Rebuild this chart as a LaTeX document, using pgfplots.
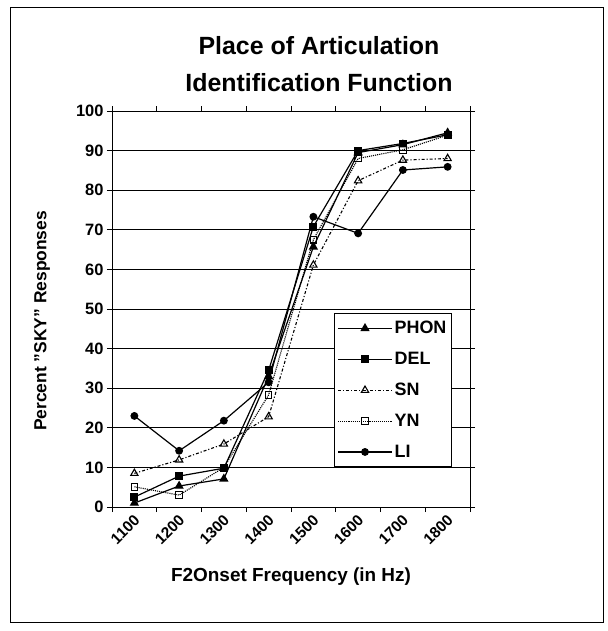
\documentclass[border=0pt]{standalone}
\usepackage{fontspec}
\setmainfont{Liberation Sans}
\usepackage{pgfplots}
\pgfplotsset{compat=1.18}
\begin{document}
\begin{tikzpicture}
\path[use as bounding box] (0,0) rectangle (608bp,-631bp);
\draw[line width=1bp] (10bp,-7bp) rectangle (603bp,-622bp);
\node[font=\fontsize{25}{29}\selectfont\bfseries] at (319bp,-46bp) {Place of Articulation};
\node[font=\fontsize{25}{29}\selectfont\bfseries] at (319bp,-83bp) {Identification Function};
\begin{axis}[
  at={(112bp,-507bp)}, anchor=south west,
  scale only axis, width=358bp, height=396bp,
  xmin=0.5, xmax=8.5, ymin=0, ymax=100,
  xtick={1,2,3,4,5,6,7,8},
  xticklabels={1100,1200,1300,1400,1500,1600,1700,1800},
  minor xtick={0.5,1.5,2.5,3.5,4.5,5.5,6.5,7.5,8.5},
  ytick={0,10,20,30,40,50,60,70,80,90,100},
  ymajorgrids, grid style={black, line width=0.9bp},
  axis line style={black, line width=1bp},
  tick align=outside, major tick length=5bp, minor tick length=5bp,
  tick style={black, line width=0.9bp},
  major x tick style={draw=none},
  /pgf/number format/assume math mode=true,
  y tick label style={font=\fontsize{16.5}{19}\selectfont\bfseries},
  x tick label style={font=\fontsize{15.5}{17}\selectfont\bfseries, rotate=45, anchor=east, yshift=-6bp, xshift=-1bp, inner sep=1bp},
  xlabel={F2Onset Frequency (in Hz)},
  ylabel={Percent "SKY" Responses},
  xlabel style={font=\fontsize{19}{22}\selectfont\bfseries, at={(axis description cs:0.5,-0.177)}, anchor=center},
  ylabel style={font=\fontsize{17.5}{20}\selectfont\bfseries, at={(axis description cs:-0.1955,0.47)}, anchor=center},
  legend style={at={(0.62,0.49)}, anchor=north west, draw=black, line width=0.9bp,
    font=\fontsize{18}{21}\selectfont\bfseries, row sep=13bp, inner ysep=6bp, inner xsep=3bp},
  legend cell align=left,
  legend image code/.code={\draw[mark repeat=2,mark phase=2,#1] plot coordinates {(0bp,0bp) (27bp,0bp) (54bp,0bp)};},
]
\addplot[black, line width=1.2bp, mark=triangle*, mark size=4.2bp, mark options={solid}]
  coordinates {(1,1)(2,5.3)(3,7.1)(4,33)(5,65.7)(6,89.5)(7,91.5)(8,94.5)};
\addlegendentry{PHON}
\addplot[black, line width=1.2bp, mark=square*, mark size=3.3bp, mark options={solid}]
  coordinates {(1,2.5)(2,7.8)(3,9.8)(4,34.5)(5,70.8)(6,90)(7,91.8)(8,94)};
\addlegendentry{DEL}
\addplot[black, line width=1.1bp, dashdotted, mark=triangle, mark size=4.2bp, mark options={solid, fill=white}]
  coordinates {(1,8.5)(2,11.9)(3,15.9)(4,22.8)(5,61.1)(6,82.4)(7,87.6)(8,88)};
\addlegendentry{SN}
\addplot[black, line width=1.1bp, densely dotted, mark=square, mark size=3.3bp, mark options={solid, fill=white}]
  coordinates {(1,5.1)(2,3.0)(3,10.0)(4,28.3)(5,67.5)(6,88)(7,90.2)(8,93.9)};
\addlegendentry{YN}
\addplot[black, line width=1.2bp, mark=*, mark size=3.3bp, mark options={solid}]
  coordinates {(1,23)(2,14.2)(3,21.8)(4,31.5)(5,73.3)(6,69.1)(7,85.1)(8,85.9)};
\addlegendentry{LI}
\end{axis}
\end{tikzpicture}
\end{document}
